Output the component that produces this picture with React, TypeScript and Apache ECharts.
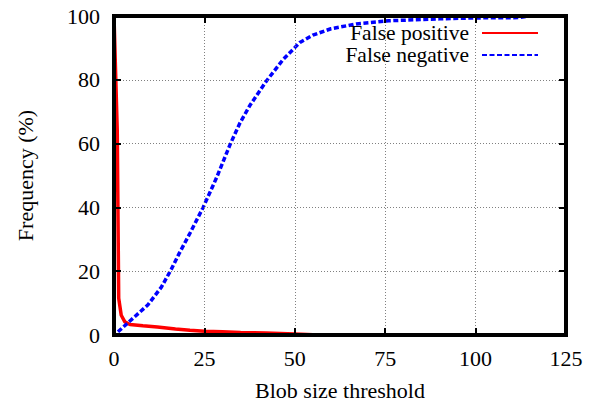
import React, { useEffect, useRef } from "react";
import * as echarts from "echarts";

const FONT = "'Liberation Serif', 'Times New Roman', serif";

const seriesNames = ["False positive", "False negative"];

const fpX = [0, 0.9, 1.3, 2, 3, 4.4, 8, 12, 17, 21, 25, 30, 35, 42, 50, 55, 60, 125];
const fpY = [100, 64, 11.5, 6.2, 4.1, 3.3, 2.9, 2.5, 1.9, 1.5, 1.2, 1.0, 0.8, 0.6, 0.3, 0.1, 0, 0];

const fnX = [1.1, 5.7, 9.4, 13.1, 15.8, 18, 21, 24.7, 28.4, 32.1, 34.8, 37.6, 42.2, 46.8, 51.4, 55, 60, 67, 76, 90, 100, 112, 115, 125];
const fnY = [1.0, 5.7, 9.5, 15, 20.5, 25.5, 31.9, 40.1, 49.4, 59.7, 66.4, 72, 79.7, 86.4, 91.7, 94, 96, 97.5, 98.5, 99.1, 99.4, 99.5, 100, 100];

const xTicks = [0, 25, 50, 75, 100, 125];
const yTicks = [0, 20, 40, 60, 80, 100];

const xName = "Blob size threshold";
const yName = "Frequency (%)";

export default function App() {
  const ref = useRef<HTMLDivElement>(null);
  useEffect(() => {
    if (!ref.current) return;
    const chart = echarts.init(ref.current, null, { renderer: "svg" });
    const border = { show: true, onZero: false, lineStyle: { color: "#000", width: 4, cap: "square" } };
    const tickIn = { show: true, inside: true, length: 7, lineStyle: { color: "#000", width: 2 } };
    const grid = {
      show: true,
      lineStyle: { color: "#808080", width: 1, type: [1, 2] },
    };
    const xMin = xTicks[0];
    const xMax = xTicks[xTicks.length - 1];
    const yMin = yTicks[0];
    const yMax = yTicks[yTicks.length - 1];
    const xInt = xTicks[1] - xTicks[0];
    const yInt = yTicks[1] - yTicks[0];
    const legendText = { fontFamily: FONT, fontSize: 21.5, color: "#000", padding: [0, 8, 0, 0] };
    const legendCommon = {
      right: 58,
      align: "right",
      itemWidth: 56,
      itemHeight: 14,
      itemGap: 8,
      textStyle: legendText,
      padding: 0,
      itemStyle: { opacity: 0 },
    };
    chart.setOption({
      animation: false,
      backgroundColor: "#fff",
      grid: { left: 114, right: 31, top: 16, bottom: 66, containLabel: false },
      legend: [
        { ...legendCommon, data: [seriesNames[0]], top: 22 },
        { ...legendCommon, data: [seriesNames[1]], top: 44 },
      ],
      xAxis: [
        {
          type: "value",
          position: "bottom",
          min: xMin,
          max: xMax,
          interval: xInt,
          z: 10,
          axisLine: border,
          axisTick: tickIn,
          splitLine: grid,
          axisLabel: { fontFamily: FONT, fontSize: 22, color: "#000", margin: 12 },
          name: xName,
          nameLocation: "middle",
          nameGap: 44,
          nameTextStyle: { fontFamily: FONT, fontSize: 22, color: "#000" },
        },
        {
          type: "value",
          position: "top",
          min: xMin,
          max: xMax,
          interval: xInt,
          z: 10,
          axisLine: border,
          axisTick: tickIn,
          splitLine: { show: false },
          axisLabel: { show: false },
        },
      ],
      yAxis: [
        {
          type: "value",
          position: "left",
          min: yMin,
          max: yMax,
          interval: yInt,
          z: 10,
          axisLine: border,
          axisTick: tickIn,
          splitLine: grid,
          axisLabel: { fontFamily: FONT, fontSize: 22, color: "#000", margin: 14 },
          name: yName,
          nameLocation: "middle",
          nameGap: 78,
          nameTextStyle: { fontFamily: FONT, fontSize: 22, color: "#000" },
        },
        {
          type: "value",
          position: "right",
          min: yMin,
          max: yMax,
          interval: yInt,
          z: 10,
          axisLine: border,
          axisTick: tickIn,
          splitLine: { show: false },
          axisLabel: { show: false },
        },
      ],
      series: [
        {
          name: seriesNames[0],
          type: "line",
          showSymbol: false,
          symbol: "none",
          color: "#ff0000",
          lineStyle: { color: "#ff0000", width: 3.5 },
          data: fpX.map((x, i) => [x, fpY[i]]),
        },
        {
          name: seriesNames[1],
          type: "line",
          showSymbol: false,
          symbol: "none",
          color: "#0000ff",
          lineStyle: { color: "#0000ff", width: 3.5, type: [5, 2.5] },
          data: fnX.map((x, i) => [x, fnY[i]]),
        },
      ],
    });
    return () => chart.dispose();
  }, []);
  return <div ref={ref} style={{ width: 597, height: 406, position: "absolute", left: 0, top: 0 }} />;
}
